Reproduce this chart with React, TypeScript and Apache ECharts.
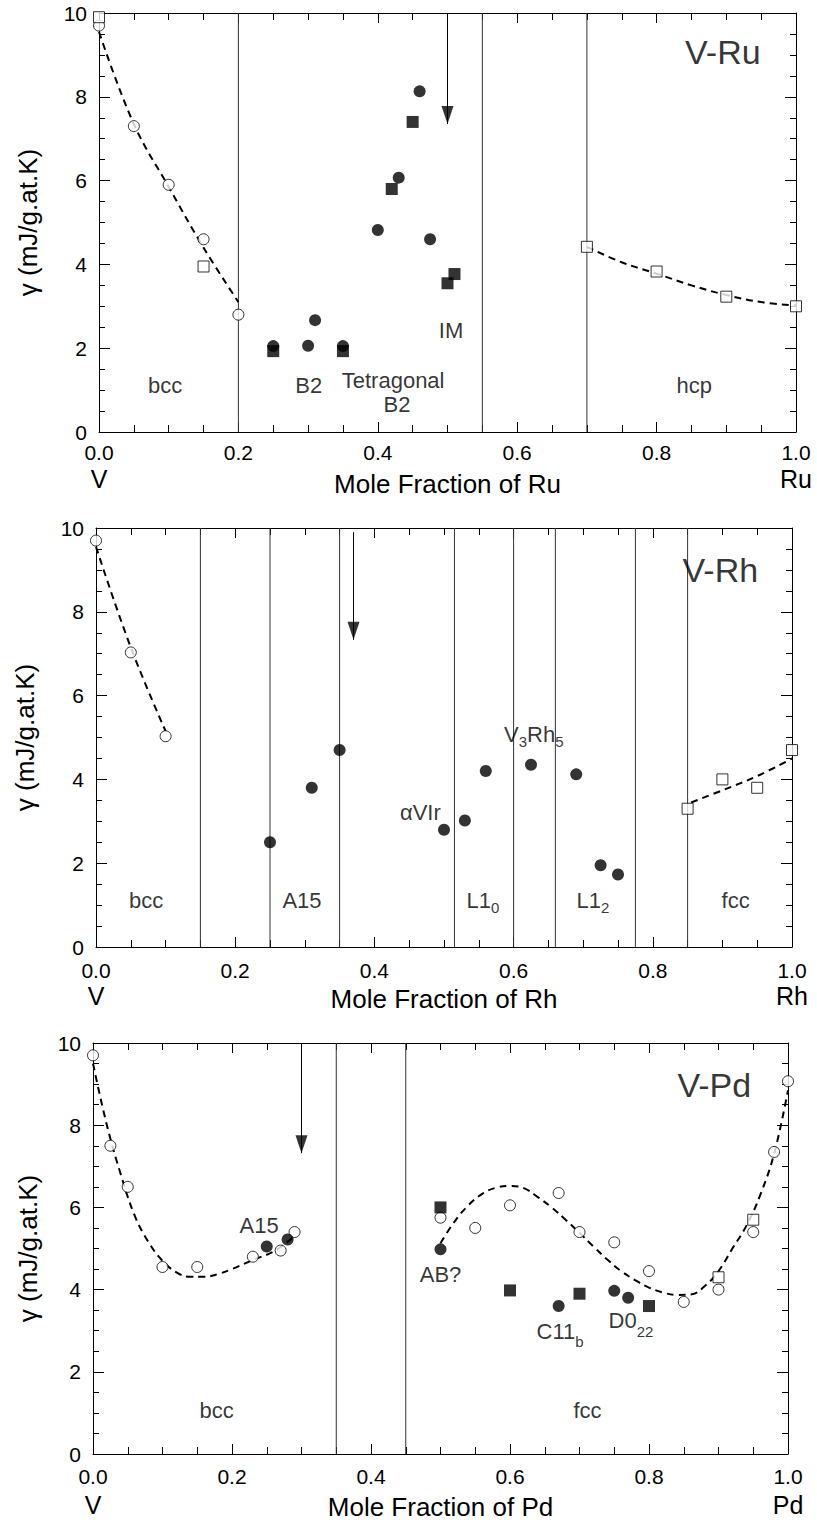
import React, { useEffect, useRef } from "react";
import * as echarts from "echarts";

const FONT = '"Liberation Sans", Arial, Helvetica, sans-serif';

// ---------------- V-Ru ----------------
const ruOpenCircles = [[0, 9.7], [0.05, 7.3], [0.1, 5.9], [0.15, 4.6], [0.2, 2.8]];
const ruOpenSquares = [[0, 9.9], [0.15, 3.95], [0.7, 4.42], [0.8, 3.83], [0.9, 3.23], [1.0, 3.0]];
const ruFilledCircles = [[0.25, 2.05], [0.3, 2.06], [0.31, 2.67], [0.35, 2.05], [0.4, 4.82], [0.43, 6.07], [0.46, 8.13], [0.475, 4.6]];
const ruFilledSquares = [[0.25, 1.93], [0.35, 1.93], [0.42, 5.8], [0.45, 7.4], [0.5, 3.55], [0.51, 3.77]];
const ruFitBcc = [[0, 9.55], [0.05, 7.35], [0.1, 5.85], [0.15, 4.4], [0.2, 3.1]];
const ruFitHcp = [[0.7, 4.42], [0.75, 4.05], [0.8, 3.78], [0.85, 3.5], [0.9, 3.27], [0.95, 3.1], [1.0, 3.02]];
const ruBoundaries = [0.2, 0.55, 0.7];
const ruArrow = { x: 0.5, from: 10, to: 7.35 };
const ruLabels = [
  { text: "bcc", x: 0.095, y: 1.11 },
  { text: "B2", x: 0.301, y: 1.11 },
  { text: "Tetragonal", x: 0.422, y: 1.22 },
  { text: "B2", x: 0.4275, y: 0.65 },
  { text: "IM", x: 0.505, y: 2.42 },
  { text: "hcp", x: 0.854, y: 1.11 },
];
const ruTitle = { text: "V-Ru", x: 0.895, y: 9.06 };

// ---------------- V-Rh ----------------
const rhOpenCircles = [[0, 9.7], [0.05, 7.03], [0.1, 5.03]];
const rhOpenSquares = [[0.85, 3.3], [0.9, 4.0], [0.95, 3.8], [1.0, 4.7]];
const rhFilledCircles = [[0.25, 2.5], [0.31, 3.8], [0.35, 4.7], [0.5, 2.8], [0.53, 3.02], [0.56, 4.2], [0.625, 4.35], [0.69, 4.12], [0.725, 1.95], [0.75, 1.73]];
const rhFilledSquares: number[][] = [];
const rhFitBcc = [[0, 9.55], [0.05, 7.15], [0.1, 5.15]];
const rhFitFcc = [[0.855, 3.45], [0.9, 3.74], [0.95, 4.08], [1.0, 4.5]];
const rhBoundaries = [0.15, 0.25, 0.35, 0.515, 0.6, 0.66, 0.775, 0.85];
const rhArrow = { x: 0.37, from: 9.9, to: 7.33 };
const rhLabels = [
  { text: "bcc", x: 0.072, y: 1.1 },
  { text: "A15", x: 0.296, y: 1.1 },
  { text: "αVIr", x: 0.466, y: 3.21 },
  { text: "{n|V}{s|3}{n|Rh}{s|5}", x: 0.629, y: 5.03 },
  { text: "{n|L1}{s|0}", x: 0.556, y: 1.07 },
  { text: "{n|L1}{s|2}", x: 0.714, y: 1.07 },
  { text: "fcc", x: 0.919, y: 1.1 },
];
const rhTitle = { text: "V-Rh", x: 0.897, y: 9.0 };

// ---------------- V-Pd ----------------
const pdOpenCircles = [[0, 9.7], [0.025, 7.5], [0.05, 6.5], [0.1, 4.55], [0.15, 4.55], [0.23, 4.8], [0.27, 4.95], [0.29, 5.4], [0.5, 5.75], [0.55, 5.5], [0.6, 6.05], [0.67, 6.35], [0.7, 5.4], [0.75, 5.15], [0.8, 4.45], [0.85, 3.7], [0.9, 4.0], [0.95, 5.4], [0.98, 7.35], [1.0, 9.07]];
const pdOpenSquares = [[0.9, 4.3], [0.95, 5.7]];
const pdFilledCircles = [[0.25, 5.05], [0.28, 5.22], [0.5, 4.98], [0.67, 3.6], [0.75, 3.97], [0.77, 3.8]];
const pdFilledSquares = [[0.5, 6.0], [0.6, 3.98], [0.7, 3.9], [0.8, 3.6]];
const pdFitBcc = [[0, 9.5], [0.02, 8.0], [0.04, 6.8], [0.06, 5.8], [0.08, 5.15], [0.1, 4.7], [0.12, 4.42], [0.14, 4.31], [0.16, 4.31], [0.18, 4.38], [0.2, 4.5], [0.23, 4.72], [0.26, 4.93], [0.29, 5.3]];
const pdFitFcc = [[0.5, 5.13], [0.52, 5.65], [0.54, 6.05], [0.56, 6.33], [0.58, 6.48], [0.6, 6.52], [0.62, 6.47], [0.64, 6.25], [0.66, 6.0], [0.68, 5.7], [0.7, 5.38], [0.72, 5.05], [0.74, 4.73], [0.76, 4.45], [0.78, 4.23], [0.8, 4.05], [0.82, 3.93], [0.84, 3.87], [0.86, 3.88], [0.88, 4.08], [0.9, 4.45], [0.92, 5.0], [0.94, 5.55], [0.96, 6.3], [0.98, 7.3], [1.0, 8.85]];
const pdBoundaries = [0.35, 0.45];
const pdArrow = { x: 0.3, from: 10, to: 7.32 };
const pdLabels = [
  { text: "A15", x: 0.239, y: 5.55 },
  { text: "bcc", x: 0.178, y: 1.07 },
  { text: "AB?", x: 0.5, y: 4.37 },
  { text: "{n|C11}{d|b}", x: 0.672, y: 2.9 },
  { text: "{n|D0}{d|22}", x: 0.774, y: 3.16 },
  { text: "fcc", x: 0.7115, y: 1.07 },
];
const pdTitle = { text: "V-Pd", x: 0.894, y: 8.98 };

const yTicks = { min: 0, max: 10, interval: 2 };
const xTicks = { min: 0, max: 1, interval: 0.2 };

const panels = [
  {
    el: "Ru",
    grid: { left: 99, top: 13, width: 697, height: 419 },
    openCircles: ruOpenCircles, openSquares: ruOpenSquares,
    filledCircles: ruFilledCircles, filledSquares: ruFilledSquares,
    fits: [ruFitBcc, ruFitHcp], boundaries: ruBoundaries, arrow: ruArrow,
    labels: ruLabels, title: ruTitle,
    xNameGap: 39, yNameGap: 58, labelMargin: 10, endLine: 32,
  },
  {
    el: "Rh",
    grid: { left: 96, top: 528, width: 696, height: 419 },
    openCircles: rhOpenCircles, openSquares: rhOpenSquares,
    filledCircles: rhFilledCircles, filledSquares: rhFilledSquares,
    fits: [rhFitBcc, rhFitFcc], boundaries: rhBoundaries, arrow: rhArrow,
    labels: rhLabels, title: rhTitle,
    xNameGap: 39, yNameGap: 58, labelMargin: 13, endLine: 30,
  },
  {
    el: "Pd",
    grid: { left: 93, top: 1043, width: 695, height: 411 },
    openCircles: pdOpenCircles, openSquares: pdOpenSquares,
    filledCircles: pdFilledCircles, filledSquares: pdFilledSquares,
    fits: [pdFitBcc, pdFitFcc], boundaries: pdBoundaries, arrow: pdArrow,
    labels: pdLabels, title: pdTitle,
    xNameGap: 40, yNameGap: 52, labelMargin: 12, endLine: 36,
  },
];

const richText = {
  n: { fontSize: 22, fontFamily: FONT, color: "#000", verticalAlign: "top" },
  s: { fontSize: 15, fontFamily: FONT, color: "#000", verticalAlign: "top", padding: [10, 0, 0, 0] },
  d: { fontSize: 15, fontFamily: FONT, color: "#000", verticalAlign: "top", padding: [14, 0, 0, 0] },
};

function buildOption() {
  const grid: any[] = [];
  const xAxis: any[] = [];
  const yAxis: any[] = [];
  const series: any[] = [];

  panels.forEach((p, i) => {
    grid.push({ ...p.grid, containLabel: false, outerBoundsMode: "none" });
    const tickStyle = { color: "#000", width: 1 };
    const baseX = {
      gridIndex: i, type: "value", ...xTicks,
      axisLine: { show: true, onZero: false, lineStyle: tickStyle },
      axisTick: { show: true, inside: true, length: 10, lineStyle: tickStyle },
      minorTick: { show: true, splitNumber: 4, length: 7, lineStyle: tickStyle },
      splitLine: { show: false },
      minorSplitLine: { show: false },
    };
    xAxis.push({
      ...baseX,
      position: "bottom",
      name: `Mole Fraction of ${p.el}`,
      nameLocation: "middle",
      nameGap: p.xNameGap,
      nameMoveOverlap: false,
      nameTextStyle: { fontSize: 26, color: "#000", fontFamily: FONT },
      axisLabel: {
        show: true, margin: p.labelMargin, color: "#000", fontFamily: FONT, fontSize: 21,
        formatter: (v: number) => {
          const t = `{t|${v.toFixed(1)}}`;
          if (Math.abs(v) < 1e-9) return `${t}\n{e|V}`;
          if (Math.abs(v - 1) < 1e-9) return `${t}\n{e|${p.el}}`;
          return t;
        },
        rich: {
          t: { fontSize: 21, lineHeight: 21, fontFamily: FONT, color: "#000" },
          e: { fontSize: 25, lineHeight: p.endLine, fontFamily: FONT, color: "#000" },
        },
      },
    });
    xAxis.push({ ...baseX, position: "top", axisLabel: { show: false } });

    const baseY = {
      gridIndex: i, type: "value", ...yTicks,
      axisLine: { show: true, onZero: false, lineStyle: tickStyle },
      axisTick: { show: true, inside: true, length: 11, lineStyle: tickStyle },
      minorTick: { show: true, splitNumber: 4, length: 6, lineStyle: tickStyle },
      splitLine: { show: false },
      minorSplitLine: { show: false },
    };
    yAxis.push({
      ...baseY,
      position: "left",
      name: "γ (mJ/g.at.K)",
      nameLocation: "middle",
      nameRotate: 90,
      nameGap: p.yNameGap,
      nameMoveOverlap: false,
      nameTextStyle: { fontSize: 26, color: "#000", fontFamily: FONT },
      axisLabel: { show: true, margin: 12, color: "#000", fontFamily: FONT, fontSize: 21 },
    });
    yAxis.push({ ...baseY, position: "right", axisLabel: { show: false } });

    const xi = 2 * i;
    const yi = 2 * i;

    // phase boundaries
    p.boundaries.forEach((b) => {
      series.push({
        type: "line", xAxisIndex: xi, yAxisIndex: yi, silent: true,
        data: [[b, yTicks.min], [b, yTicks.max]],
        symbol: "none", lineStyle: { color: "#333", width: 1 }, z: 1,
      });
    });

    // dashed fits
    p.fits.forEach((f) => {
      series.push({
        type: "line", xAxisIndex: xi, yAxisIndex: yi, silent: true,
        data: f, smooth: 0.4, symbol: "none",
        lineStyle: { color: "#000", width: 2, type: [7, 5] }, z: 2,
      });
    });

    // arrow
    series.push({
      type: "line", xAxisIndex: xi, yAxisIndex: yi, silent: true,
      data: [[p.arrow.x, p.arrow.from], [p.arrow.x, p.arrow.to]],
      symbol: "none", lineStyle: { color: "#000", width: 1 }, z: 3,
    });
    series.push({
      type: "scatter", xAxisIndex: xi, yAxisIndex: yi, silent: true, clip: false,
      data: [[p.arrow.x, p.arrow.to]],
      symbol: "triangle", symbolSize: [12, 18], symbolRotate: 180, symbolOffset: [0, -9],
      itemStyle: { color: "#000" }, z: 3,
    });

    const mk = (data: number[][], symbol: string, size: number, filled: boolean) => ({
      type: "scatter", xAxisIndex: xi, yAxisIndex: yi, silent: true, clip: false,
      data, symbol, symbolSize: size,
      itemStyle: filled
        ? { color: "#000" }
        : { color: "#fff", borderColor: "#000", borderWidth: 1 },
      z: 4,
    });
    series.push(mk(p.openCircles, "circle", 11, false));
    series.push(mk(p.openSquares, "rect", 11, false));
    series.push(mk(p.filledCircles, "circle", 12, true));
    series.push(mk(p.filledSquares, "rect", 12, true));

    // annotations
    series.push({
      type: "scatter", xAxisIndex: xi, yAxisIndex: yi, silent: true, clip: false,
      data: p.labels.map((l) => ({ value: [l.x, l.y], name: l.text })),
      symbolSize: 1, itemStyle: { color: "rgba(0,0,0,0)" },
      label: {
        show: true, position: "inside", color: "#000", fontFamily: FONT, fontSize: 22,
        formatter: (q: any) => q.name, rich: richText,
      },
      z: 5,
    });
    series.push({
      type: "scatter", xAxisIndex: xi, yAxisIndex: yi, silent: true, clip: false,
      data: [{ value: [p.title.x, p.title.y], name: p.title.text }],
      symbolSize: 1, itemStyle: { color: "rgba(0,0,0,0)" },
      label: {
        show: true, position: "inside", color: "#000", fontFamily: FONT, fontSize: 34,
        formatter: (q: any) => q.name,
      },
      z: 5,
    });
  });

  return {
    animation: false,
    backgroundColor: "#fff",
    textStyle: { fontFamily: FONT },
    grid, xAxis, yAxis, series,
  };
}

export default function App() {
  const ref = useRef<HTMLDivElement>(null);
  useEffect(() => {
    document.body.style.margin = "0";
    const chart = echarts.init(ref.current!, null, { renderer: "svg" });
    chart.setOption(buildOption() as any);
    return () => chart.dispose();
  }, []);
  return <div ref={ref} style={{ width: 817, height: 1531 }} />;
}
